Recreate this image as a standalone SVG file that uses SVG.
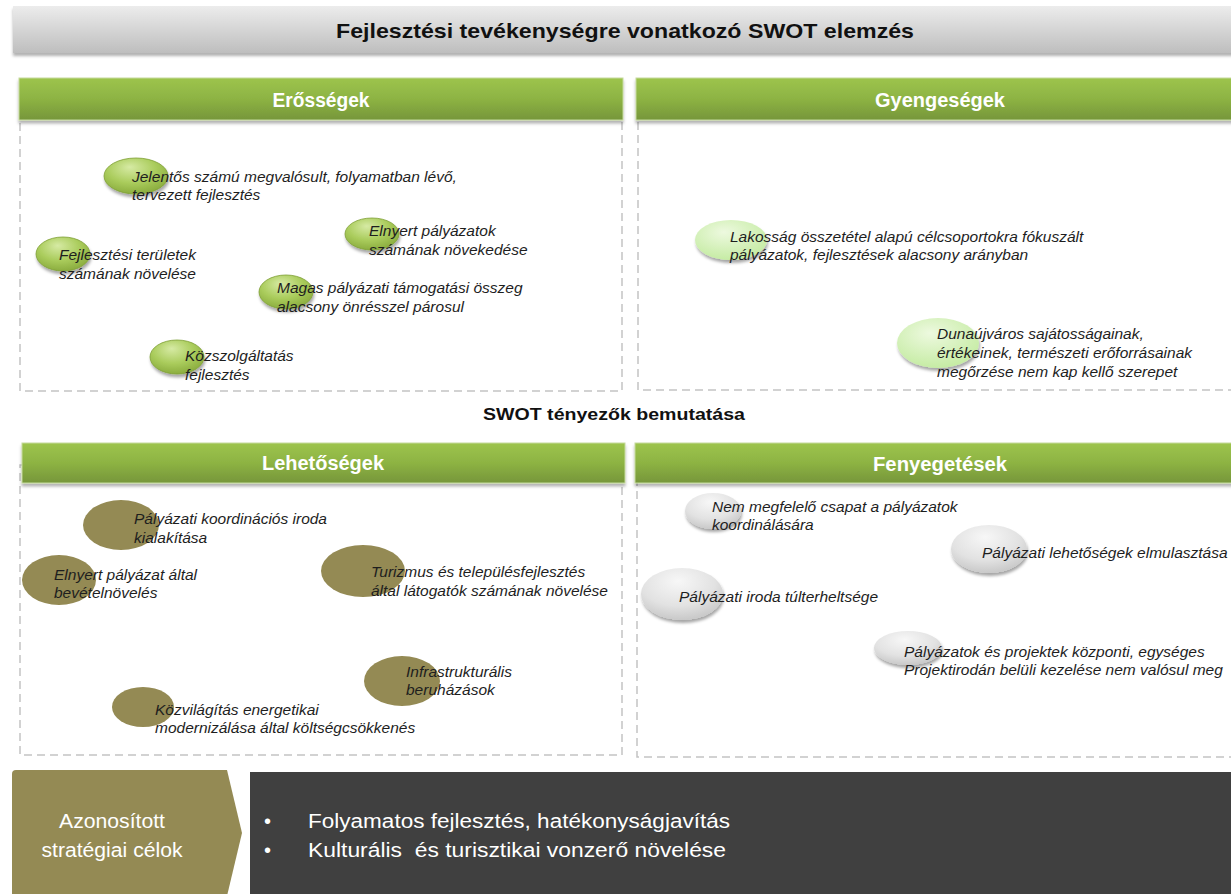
<svg xmlns="http://www.w3.org/2000/svg" width="1231" height="894" viewBox="0 0 1231 894">
  <defs>
    <linearGradient id="gTitle" x1="0" y1="0" x2="0" y2="1">
      <stop offset="0" stop-color="#ECECEC"/>
      <stop offset="1" stop-color="#BEBEBE"/>
    </linearGradient>
    <linearGradient id="gHead" x1="0" y1="0" x2="0" y2="1">
      <stop offset="0" stop-color="#9DC44D"/>
      <stop offset="0.5" stop-color="#8DB343"/>
      <stop offset="1" stop-color="#76963A"/>
    </linearGradient>
    <radialGradient id="gGreen" cx="0.45" cy="0.35" r="0.7" fx="0.4" fy="0.25">
      <stop offset="0" stop-color="#D6EAA4"/>
      <stop offset="0.55" stop-color="#AACC5C"/>
      <stop offset="1" stop-color="#86A83A"/>
    </radialGradient>
    <radialGradient id="gLight" cx="0.45" cy="0.35" r="0.7" fx="0.4" fy="0.3">
      <stop offset="0" stop-color="#EDF9DF"/>
      <stop offset="1" stop-color="#C3EBA0"/>
    </radialGradient>
    <radialGradient id="gGray" cx="0.45" cy="0.3" r="0.75" fx="0.45" fy="0.25">
      <stop offset="0" stop-color="#F7F7F7"/>
      <stop offset="0.6" stop-color="#E2E2E2"/>
      <stop offset="1" stop-color="#C4C4C4"/>
    </radialGradient>
    <filter id="shadow" x="-20%" y="-20%" width="140%" height="160%">
      <feDropShadow dx="1" dy="3" stdDeviation="1.6" flood-color="#000" flood-opacity="0.35"/>
    </filter>
    <filter id="shadowBar" x="-5%" y="-20%" width="110%" height="150%">
      <feDropShadow dx="0" dy="3" stdDeviation="1.5" flood-color="#000" flood-opacity="0.3"/>
    </filter>
  </defs>
  <style>
    .dash { fill: none; stroke: #C3C3C3; stroke-width: 1.5; stroke-dasharray: 8 5; }
    .head { fill: url(#gHead); stroke: #C5DA9E; stroke-width: 1; filter: url(#shadowBar); }
    .headText { font-family: "Liberation Sans", Arial, sans-serif; font-weight: bold; font-size: 20px; fill: #FFFFFF; text-anchor: middle; }
    .item { font-family: "Liberation Sans", Arial, sans-serif; font-style: italic; font-size: 15.5px; fill: #1E1E1E; }
    .eGreen { fill: url(#gGreen); stroke: #7F9F36; stroke-width: 0.8; filter: url(#shadow); }
    .eLight { fill: url(#gLight); filter: url(#shadow); }
    .eOlive { fill: #948A54; }
    .eGray { fill: url(#gGray); filter: url(#shadow); }
    .white { font-family: "Liberation Sans", Arial, sans-serif; font-size: 20px; fill: #FFFFFF; }
  </style>

  <rect width="1231" height="894" fill="#FFFFFF"/>

  <!-- Title -->
  <g id="title">
    <rect x="13" y="6" width="1230" height="47" fill="url(#gTitle)" filter="url(#shadowBar)"/>
    <text x="625" y="38" font-family="Liberation Sans, Arial, sans-serif" font-weight="bold" font-size="21" fill="#111" text-anchor="middle" textLength="578" lengthAdjust="spacingAndGlyphs">Fejlesztési tevékenységre vonatkozó SWOT elemzés</text>
  </g>

  <!-- Strengths -->
  <g id="strengths">
    <rect class="dash" x="20" y="100" width="602" height="291"/>
    <rect class="head" x="19" y="78" width="604" height="42"/>
    <text class="headText" x="321" y="107" textLength="97" lengthAdjust="spacingAndGlyphs">Erősségek</text>
  </g>
  <g id="s1">
    <ellipse class="eGreen" cx="136" cy="176" rx="32" ry="18"/>
    <text class="item" x="132" y="182">Jelentős számú megvalósult, folyamatban lévő,</text>
    <text class="item" x="132" y="200">tervezett fejlesztés</text>
  </g>
  <g id="s2">
    <ellipse class="eGreen" cx="63" cy="254" rx="27" ry="17"/>
    <text class="item" x="59" y="260">Fejlesztési területek</text>
    <text class="item" x="59" y="279">számának növelése</text>
  </g>
  <g id="s3">
    <ellipse class="eGreen" cx="372" cy="234" rx="27" ry="16"/>
    <text class="item" x="369" y="236">Elnyert pályázatok</text>
    <text class="item" x="369" y="255">számának növekedése</text>
  </g>
  <g id="s4">
    <ellipse class="eGreen" cx="286" cy="292" rx="27" ry="17"/>
    <text class="item" x="277" y="293">Magas pályázati támogatási összeg</text>
    <text class="item" x="277" y="312">alacsony önrésszel párosul</text>
  </g>
  <g id="s5">
    <ellipse class="eGreen" cx="177" cy="357" rx="27" ry="17"/>
    <text class="item" x="185" y="361">Közszolgáltatás</text>
    <text class="item" x="185" y="380">fejlesztés</text>
  </g>

  <!-- Weaknesses -->
  <g id="weaknesses">
    <rect class="dash" x="638" y="100" width="700" height="290"/>
    <rect class="head" x="636" y="78" width="600" height="42"/>
    <text class="headText" x="940" y="107" textLength="130" lengthAdjust="spacingAndGlyphs">Gyengeségek</text>
  </g>
  <g id="w1">
    <ellipse class="eLight" cx="731" cy="240" rx="36" ry="20"/>
    <text class="item" x="730" y="242">Lakosság összetétel alapú célcsoportokra fókuszált</text>
    <text class="item" x="730" y="260">pályázatok, fejlesztések alacsony arányban</text>
  </g>
  <g id="w2">
    <ellipse class="eLight" cx="938" cy="343" rx="41" ry="25"/>
    <text class="item" x="937" y="339">Dunaújváros sajátosságainak,</text>
    <text class="item" x="937" y="358">értékeinek, természeti erőforrásainak</text>
    <text class="item" x="937" y="377">megőrzése nem kap kellő szerepet</text>
  </g>

  <!-- Middle label -->
  <g id="swot-label">
    <text x="614" y="420" font-family="Liberation Sans, Arial, sans-serif" font-weight="bold" font-size="17" fill="#111" text-anchor="middle" textLength="262" lengthAdjust="spacingAndGlyphs">SWOT tényezők bemutatása</text>
  </g>

  <!-- Opportunities -->
  <g id="opportunities">
    <rect class="dash" x="20" y="465" width="602" height="290"/>
    <rect class="head" x="22" y="443" width="603" height="40"/>
    <text class="headText" x="323" y="470" textLength="122" lengthAdjust="spacingAndGlyphs">Lehetőségek</text>
  </g>
  <g id="o1">
    <ellipse class="eOlive" cx="121" cy="525" rx="38" ry="25"/>
    <text class="item" x="134" y="524">Pályázati koordinációs iroda</text>
    <text class="item" x="134" y="543">kialakítása</text>
  </g>
  <g id="o2">
    <ellipse class="eOlive" cx="59" cy="580" rx="37" ry="25"/>
    <text class="item" x="54" y="580">Elnyert pályázat által</text>
    <text class="item" x="54" y="598">bevételnövelés</text>
  </g>
  <g id="o3">
    <ellipse class="eOlive" cx="363" cy="571" rx="42" ry="26"/>
    <text class="item" x="371" y="577">Turizmus és településfejlesztés</text>
    <text class="item" x="371" y="596">által látogatók számának növelése</text>
  </g>
  <g id="o4">
    <ellipse class="eOlive" cx="402" cy="681" rx="38" ry="25"/>
    <text class="item" x="406" y="677">Infrastrukturális</text>
    <text class="item" x="406" y="695">beruházások</text>
  </g>
  <g id="o5">
    <ellipse class="eOlive" cx="143" cy="707" rx="31" ry="20"/>
    <text class="item" x="155" y="715">Közvilágítás energetikai</text>
    <text class="item" x="155" y="733">modernizálása által költségcsökkenés</text>
  </g>

  <!-- Threats -->
  <g id="threats">
    <rect class="dash" x="637" y="465" width="700" height="292"/>
    <rect class="head" x="635" y="443" width="600" height="40"/>
    <text class="headText" x="940" y="471" textLength="134" lengthAdjust="spacingAndGlyphs">Fenyegetések</text>
  </g>
  <g id="t1">
    <ellipse class="eGray" cx="713" cy="511" rx="28" ry="18"/>
    <text class="item" x="712" y="512">Nem megfelelő csapat a pályázatok</text>
    <text class="item" x="712" y="530">koordinálására</text>
  </g>
  <g id="t2">
    <ellipse class="eGray" cx="989" cy="549" rx="38" ry="24"/>
    <text class="item" x="982" y="558">Pályázati lehetőségek elmulasztása</text>
  </g>
  <g id="t3">
    <ellipse class="eGray" cx="682" cy="594" rx="41" ry="26"/>
    <text class="item" x="679" y="602">Pályázati iroda túlterheltsége</text>
  </g>
  <g id="t4">
    <ellipse class="eGray" cx="908" cy="648" rx="34" ry="17"/>
    <text class="item" x="904" y="657">Pályázatok és projektek központi, egységes</text>
    <text class="item" x="904" y="675">Projektirodán belüli kezelése nem valósul meg</text>
  </g>

  <!-- Strategic goals -->
  <g id="goals-label">
    <path d="M12,774 Q12,770 16,770 L227,770 L242,833 L227,896 L12,896 Z" fill="#948A54"/>
    <text class="white" x="112" y="828" text-anchor="middle" textLength="106" lengthAdjust="spacingAndGlyphs">Azonosított</text>
    <text class="white" x="112" y="857" text-anchor="middle" textLength="141" lengthAdjust="spacingAndGlyphs">stratégiai célok</text>
  </g>
  <g id="goals-list">
    <rect x="250" y="772" width="981" height="122" fill="#404040"/>
    <text class="white" x="264" y="828">•</text>
    <text class="white" x="308" y="828" textLength="422" lengthAdjust="spacingAndGlyphs">Folyamatos fejlesztés, hatékonyságjavítás</text>
    <text class="white" x="264" y="857">•</text>
    <text class="white" x="308" y="857" textLength="418" lengthAdjust="spacingAndGlyphs" xml:space="preserve">Kulturális  és turisztikai vonzerő növelése</text>
  </g>
</svg>
